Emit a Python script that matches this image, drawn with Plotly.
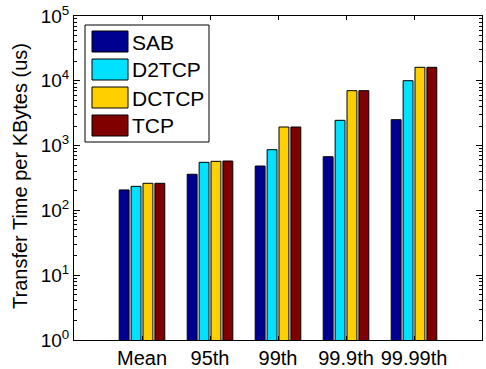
import plotly.graph_objects as go

categories = ["Mean", "95th", "99th", "99.9th", "99.99th"]
series_names = ["SAB", "D2TCP", "DCTCP", "TCP"]
sab = [207, 361, 484, 674, 2512]
d2tcp = [235, 552, 865, 2455, 10040]
dctcp = [262, 572, 1936, 7040, 16150]
tcp = [262, 578, 1936, 7040, 16150]
colors = ["#000090", "#00E0FF", "#FFD000", "#800000"]
y_tick_vals = [1, 10, 100, 1000, 10000, 100000]
y_tick_text = ["10<sup>0</sup>", "10<sup>1</sup>", "10<sup>2</sup>", "10<sup>3</sup>", "10<sup>4</sup>", "10<sup>5</sup>"]
y_title = "Transfer Time per KBytes (us)"

values = [sab, d2tcp, dctcp, tcp]
W, H = 486, 369
L, R, T, B = 74, 4, 16, 29
font = "Liberation Sans, Arial, Helvetica, sans-serif"

fig = go.Figure()
for name, vals, col in zip(series_names, values, colors):
    fig.add_trace(go.Bar(x=categories, y=vals, name=name, marker=dict(color=col, line=dict(color="black", width=1)),
                         showlegend=False))

pw, ph = W - L - R, H - T - B
def px(x):
    return (x - L) / pw
def py(y):
    return (H - B - y) / ph

shapes = []
annotations = []
# legend box
shapes.append(dict(type="rect", xref="paper", yref="paper", x0=px(85), x1=px(209), y0=py(142), y1=py(25),
                   line=dict(color="black", width=1), fillcolor="white", layer="above"))
for i, (name, col) in enumerate(zip(series_names, colors)):
    top = 31 + i * 28
    shapes.append(dict(type="rect", xref="paper", yref="paper", x0=px(92), x1=px(128), y0=py(top + 21), y1=py(top),
                       line=dict(color="black", width=1), fillcolor=col, layer="above"))
    annotations.append(dict(xref="paper", yref="paper", x=px(130), y=py(top + 11), text=name, showarrow=False,
                            xanchor="left", yanchor="middle", font=dict(family=font, size=21, color="black")))

annotations.append(dict(xref="paper", yref="paper", x=px(20), y=py(176), text=y_title, textangle=-90,
                        showarrow=False, xanchor="center", yanchor="middle",
                        font=dict(family=font, size=20, color="black")))

fig.update_layout(
    width=W, height=H, margin=dict(l=L, r=R, t=T, b=B),
    paper_bgcolor="white", plot_bgcolor="white",
    barmode="group", bargap=0.3, bargroupgap=0.17,
    font=dict(family=font, size=19, color="black"),
    shapes=shapes, annotations=annotations,
    xaxis=dict(range=[-1, 5], showline=True, linecolor="black", linewidth=1, mirror="ticks",
               ticks="inside", ticklen=4, tickcolor="black", tickfont=dict(size=20), showgrid=False,
               automargin=False),
    yaxis=dict(type="log", range=[0, 5], showline=True, linecolor="black", linewidth=1, mirror="ticks",
               ticks="inside", ticklen=6, tickcolor="black", tickvals=y_tick_vals, ticktext=y_tick_text,
               tickfont=dict(size=19), showgrid=False, zeroline=False, automargin=False,
               minor=dict(ticks="inside", ticklen=3, tickcolor="black", dtick="D1", showgrid=False)),
)
fig.write_html("out.html")
